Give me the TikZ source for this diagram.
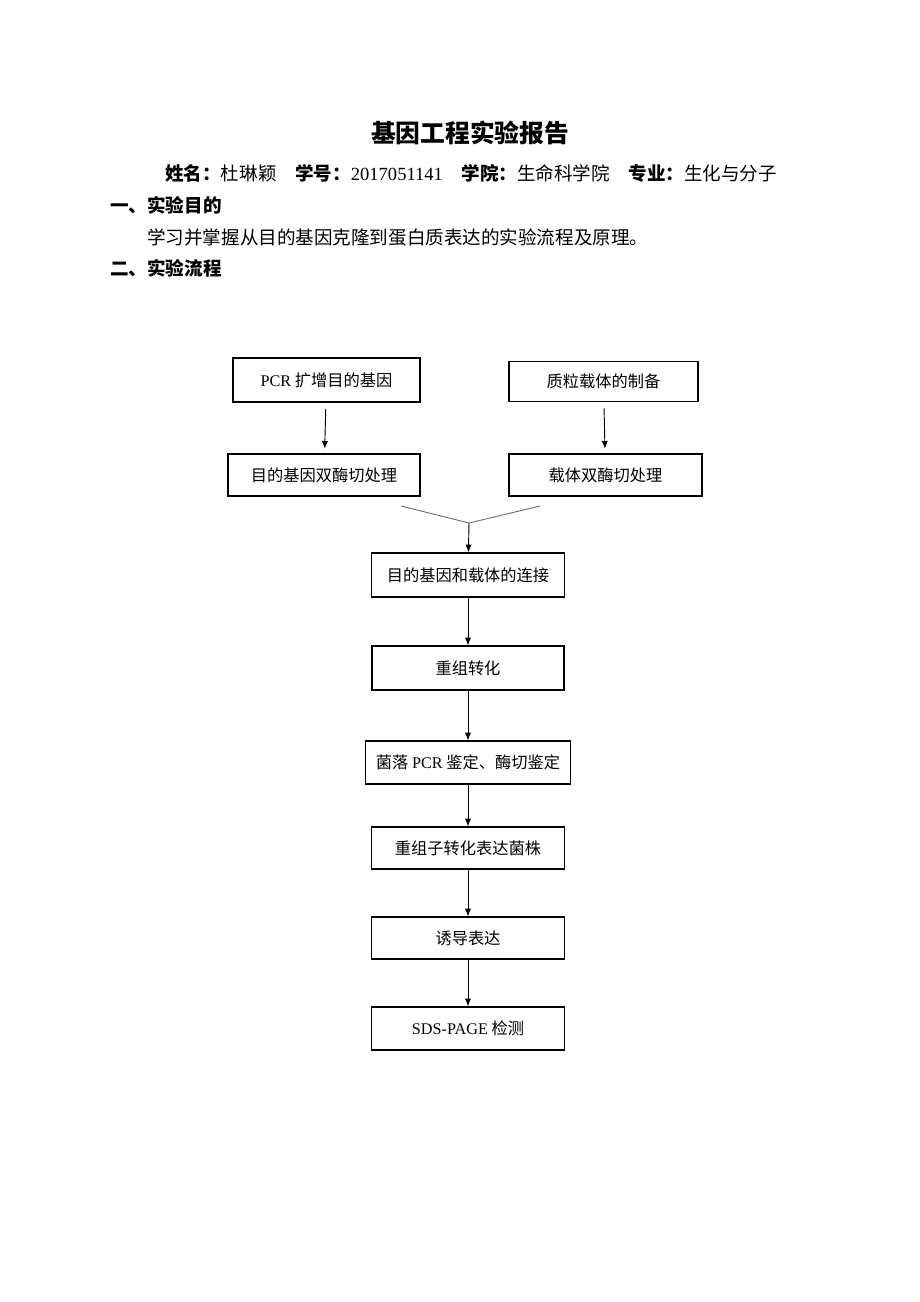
\documentclass[tikz,border=0pt]{standalone}
\usepackage{fontspec}
\setmainfont{Liberation Serif}
\newfontfamily\cjk{Noto Sans CJK SC}
\usetikzlibrary{arrows,arrows.meta,positioning}
\newcommand{\lat}[1]{{\rmfamily #1}}
\definecolor{vgray}{RGB}{110,110,110}
\tikzset{
	stepbox/.style 2 args = {draw, rectangle, line width = 0.8pt, inner sep = 0pt,
		minimum width = #1*0.6467pt, minimum height = #2*0.6467pt,
		font = \cjk\fontsize{10.5pt}{12pt}\selectfont},
	flow/.style = {-{Latex[length=5pt, width=4pt]}, line width = 0.6pt},
	vline/.style = {draw = vgray, line width = 0.6pt},
	title/.style = {font = \cjk\bfseries\fontsize{16pt}{18pt}\selectfont},
	plain/.style = {anchor = west, inner sep = 0pt, font = \cjk\fontsize{12pt}{14pt}\selectfont}
}
\begin{document}
\begin{tikzpicture}[x = 0.6467pt, y = -0.6467pt]
	\useasboundingbox [fill = white] (0,0) rectangle (920,1302);

	% header
	\node [title] (head) at (470,133) {基因工程实验报告};
	\node [plain] (info) at (165,173) {\textbf{姓名：}杜琳颖\hspace{1em}\textbf{学号：}\lat{2017051141}\hspace{1em}\textbf{学院：}生命科学院\hspace{1em}\textbf{专业：}生化与分子};
	\node [plain] (sec1) at (110,205) {\textbf{一、实验目的}};
	\node [plain] (aim) at (147,237) {学习并掌握从目的基因克隆到蛋白质表达的实验流程及原理。};
	\node [plain] (sec2) at (110,268) {\textbf{二、实验流程}};

	% two branches
	\node [stepbox = {187}{44}] (pcr) at (326.5,380) {\lat{PCR} 扩增目的基因};
	\node [stepbox = {189}{40}] (plasmid) at (603.5,381.5) {质粒载体的制备};
	\node [stepbox = {192}{42}] (gcut) at (324,475) {目的基因双酶切处理};
	\node [stepbox = {193}{42}] (vcut) at (605.5,475) {载体双酶切处理};
	\draw [flow, shorten <= 4pt, shorten >= 3pt] (pcr) -- (gcut);
	\draw [flow, shorten <= 4pt, shorten >= 3pt] (plasmid) -- (vcut);

	\coordinate (vl) at (401,506);
	\coordinate (vr) at (540,506);
	\coordinate (join) at (469,523);
	\draw [vline] (vl) -- (join) -- (vr);

	% main chain
	\foreach \name/\y/\w/\h/\txt in {
		link/575/193/44/{目的基因和载体的连接},
		recomb/668/192/44/{重组转化},
		check/762.5/205/43/{菌落 \lat{PCR} 鉴定、酶切鉴定},
		strain/848/193/42/{重组子转化表达菌株},
		induce/938/193/42/{诱导表达},
		sds/1028.5/193/43/{\lat{SDS-PAGE} 检测}}{
		\node [stepbox = {\w}{\h}] (\name) at (468,\y) {\txt};
	}
	\draw [flow] (join) -- (link);
	\foreach \a/\b in {link/recomb, recomb/check, check/strain, strain/induce, induce/sds}{
		\draw [flow] (\a) -- (\b);
	}
\end{tikzpicture}
\end{document}
